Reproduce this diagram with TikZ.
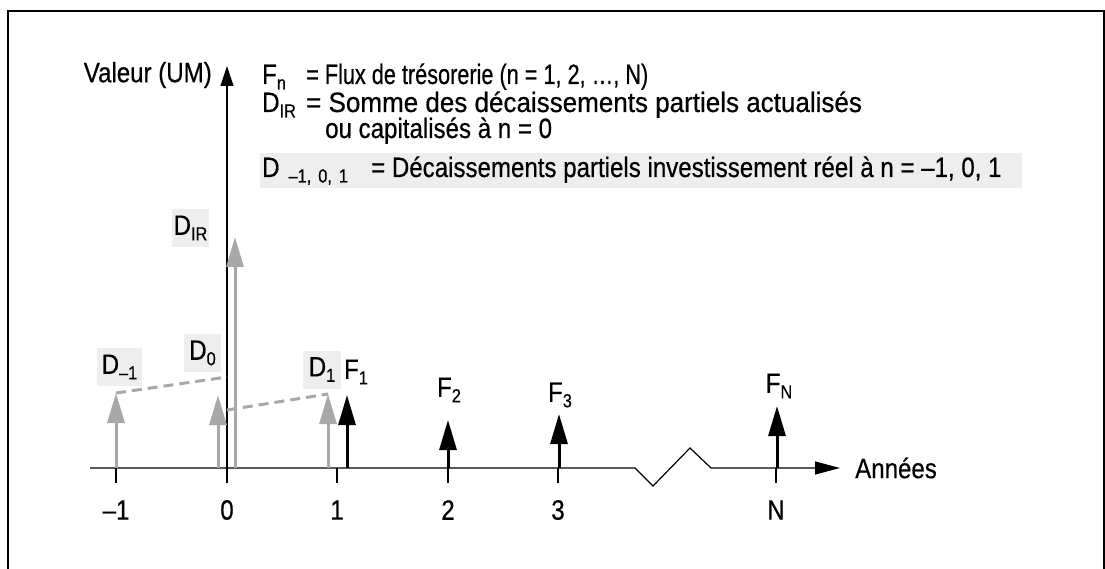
\documentclass[tikz,border=0pt]{standalone}
\usepackage{fontspec}
\usepackage{graphicx}
\setmainfont{Liberation Sans}[FakeStretch=0.86,FakeBold=0.5]
\usetikzlibrary{arrows.meta}
\definecolor{grayarrow}{HTML}{A8A8A8}
\definecolor{boxgray}{HTML}{EEEEEE}
\newcommand{\sbs}[1]{\raisebox{-5.5pt}{\fontsize{19}{19}\selectfont #1}}
\tikzset{
  axisline/.style={line width=1.2pt, black},
  grayarr/.style={line width=3pt, grayarrow, -{Triangle[length=30pt,width=17pt]}},
  blackarr/.style={line width=3pt, black, -{Triangle[length=30pt,width=17pt]}},
  graylabel/.style={fill=boxgray, inner sep=0pt, minimum height=38pt, font=\fontsize{28}{32}\selectfont},
  txt/.style={font=\fontsize{28}{32}\selectfont, inner sep=0pt},
  dashline/.style={line width=3pt, grayarrow, dash pattern=on 10pt off 6pt},
  tickline/.style={line width=1.2pt, black}
}
\begin{document}
\begin{tikzpicture}[x=1pt,y=-1pt]
\useasboundingbox (0,0) rectangle (1105,569);
% frame
\draw[line width=1.5pt] (8,600) -- (8,11) -- (1104,11) -- (1104,600);

% legend
\node[fill=boxgray, anchor=north west, minimum width=762pt, minimum height=35pt, inner sep=0pt] (legbox) at (260,153) {};
\node[txt, anchor=base west] (l1a) at (262,84) {F\sbs{n}};
\node[txt, anchor=base west] (l1b) at (306,84) {\scalebox{0.9}[1]{= Flux de trésorerie (n = 1, 2, …, N)}};
\node[txt, anchor=base west] (l2a) at (262,112) {D\sbs{IR}};
\node[txt, anchor=base west] (l2b) at (306,112) {\scalebox{1.08}[1]{= Somme des décaissements partiels actualisés}};
\node[txt, anchor=base west] (l3b) at (325,138) {ou capitalisés à n = 0};
\node[txt, anchor=base west] (l4a) at (262,177) {D\sbs{\hspace{9pt}–1,\hspace{7pt}0,\hspace{7pt}1}};
\node[txt, anchor=base west] (l4b) at (371,177) {= Décaissements partiels investissement réel à n = –1, 0, 1};

% axes
\coordinate (hstart) at (90,468);
\coordinate (hend) at (840,468);
\draw[axisline, -{Triangle[length=25pt,width=13pt]}] (hstart) -- (635,468) -- (653,486) -- (690,448) -- (711,468) -- (hend);
\node[txt, anchor=west] (annees) at (855,468) {Années};
\coordinate (vstart) at (227,483);
\coordinate (vend) at (227,66);
\draw[axisline, -{Triangle[length=20pt,width=13pt]}] (vstart) -- (vend);
\node[txt, anchor=east] (valeur) at (212,75) {Valeur (UM)};

% ticks
\foreach \x/\lab/\nm in {116/–1/tm, 337/1/t1, 448/2/t2, 558/3/t3, 776/N/tN}{
  \coordinate (\nm a) at (\x,468);
  \coordinate (\nm b) at (\x,483);
  \draw[tickline] (\nm a) -- (\nm b);
  \node[txt] (\nm lab) at (\x,510) {\lab};
}
\node[txt] (t0lab) at (227,510) {0};

% dashed capitalisation lines
\coordinate (dmtip) at (116,393);
\coordinate (d0ax) at (227,377);
\coordinate (d1ax) at (227,410);
\coordinate (d1tip) at (328,394);
\draw[dashline] (dmtip) -- (d0ax);
\draw[dashline] (d1ax) -- (d1tip);

% gray arrows
\coordinate (dmb) at (116,468);
\coordinate (d0b) at (218,468);
\coordinate (d0t) at (218,395);
\coordinate (dirb) at (235,468);
\coordinate (dirt) at (235,237);
\coordinate (d1b) at (328,468);
\draw[grayarr] (dmb) -- (dmtip);
\draw[grayarr] (d0b) -- (d0t);
\draw[grayarr] (dirb) -- (dirt);
\draw[grayarr] (d1b) -- (d1tip);

% black arrows
\foreach \x/\t/\nm in {347/395/f1, 448/420/f2, 559/414/f3, 777/406/fN}{
  \coordinate (\nm b) at (\x,468);
  \coordinate (\nm t) at (\x,\t);
  \draw[blackarr] (\nm b) -- (\nm t);
}

% gray labels
\node[graylabel, minimum width=37pt] (lDIR) at (190.5,228) {D\sbs{IR}};
\node[graylabel, minimum width=45pt] (lDm) at (119.5,367) {D\sbs{–1}};
\node[graylabel, minimum width=37pt] (lD0) at (202.5,353) {D\sbs{0}};
\node[graylabel, minimum width=38pt] (lD1) at (322,369.5) {D\sbs{1}};

% F labels
\node[txt] (lF1) at (356,372) {F\sbs{1}};
\node[txt] (lF2) at (449,390) {F\sbs{2}};
\node[txt] (lF3) at (560,395) {F\sbs{3}};
\node[txt] (lFN) at (779,386) {F\sbs{N}};
\end{tikzpicture}
\end{document}
